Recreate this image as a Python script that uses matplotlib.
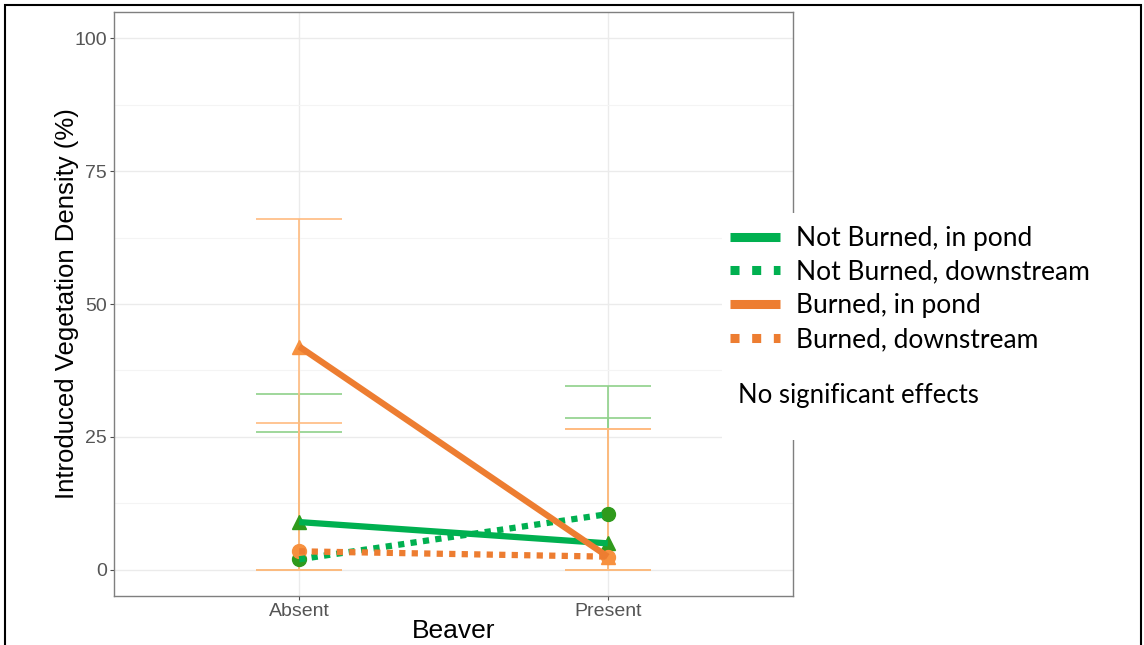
import matplotlib
matplotlib.use("Agg")
from matplotlib import pyplot as plt
from matplotlib.patches import Rectangle
from matplotlib.lines import Line2D

beaver = ["Absent", "Present"]
xpos = [1, 2]

groups = ["Not Burned, in pond", "Not Burned, downstream", "Burned, in pond", "Burned, downstream"]
means = {
    "Not Burned, in pond": [9.0, 5.0],
    "Not Burned, downstream": [2.0, 10.5],
    "Burned, in pond": [42.0, 2.5],
    "Burned, downstream": [3.5, 2.5],
}
upper = {
    "Not Burned, in pond": [33.0, 28.5],
    "Not Burned, downstream": [26.0, 34.5],
    "Burned, in pond": [66.0, 26.5],
    "Burned, downstream": [27.6, 26.5],
}
lower = {
    "Not Burned, in pond": [0.0, 0.0],
    "Not Burned, downstream": [0.0, 0.0],
    "Burned, in pond": [0.0, 0.0],
    "Burned, downstream": [0.0, 0.0],
}
yticks = [0, 25, 50, 75, 100]

line_col = {"Not": "#00b050", "Burned": "#ed7d31"}
err_col = {"Not": "#8fd18a", "Burned": "#ffbb80"}
mk_col = {"Not": "#2f9a1c", "Burned": "#f7913f"}

fig = plt.figure(figsize=(11.44, 6.45), dpi=100)
ax = fig.add_axes([114/1144, 1-596/645, (793-114)/1144, (596-12)/645])

for g in groups:
    key = "Not" if g.startswith("Not") else "Burned"
    m = means[g]
    yerr = [[m[i]-lower[g][i] for i in range(2)], [upper[g][i]-m[i] for i in range(2)]]
    ax.errorbar(xpos, m, yerr=yerr, fmt="none", ecolor=err_col[key], elinewidth=1.2,
                capsize=31, capthick=1.2, zorder=2)

for g in groups:
    key = "Not" if g.startswith("Not") else "Burned"
    pond = "in pond" in g
    ax.plot(xpos, means[g], color=mk_col[key], marker="^" if pond else "o",
            markersize=10, linestyle="none", zorder=3)
handles = []
for g in groups:
    key = "Not" if g.startswith("Not") else "Burned"
    pond = "in pond" in g
    ls = "-" if pond else (0, (1, 1))
    ax.plot(xpos, means[g], color=line_col[key], linewidth=4.5, linestyle=ls,
            solid_capstyle="butt", dash_capstyle="butt", zorder=4)
    handles.append(Line2D([], [], color=line_col[key], linewidth=6.5,
                          linestyle="-" if pond else (0, (1, 1.4)),
                          solid_capstyle="butt", dash_capstyle="butt"))

ax.set_xlim(0.4, 2.6)
ax.set_ylim(-4.9, 104.9)
ax.set_xticks(xpos)
ax.set_xticklabels(beaver)
ax.set_yticks(yticks)
ax.set_yticks([12.5, 37.5, 62.5, 87.5], minor=True)
ax.grid(True, which="major", color="#ebebeb", linewidth=1.0)
ax.grid(True, which="minor", axis="y", color="#f4f4f4", linewidth=0.8)
ax.set_axisbelow(True)
for s in ax.spines.values():
    s.set_color("#7f7f7f")
    s.set_linewidth(1.0)
ax.tick_params(axis="both", colors="#4d4d4d", labelsize=14, length=3, width=0.8, labelcolor="#555555", pad=2)
ax.tick_params(axis="both", which="minor", length=0)
for lab in ax.get_xticklabels() + ax.get_yticklabels():
    lab.set_family("Liberation Sans")
ax.set_xlabel("Beaver", fontsize=19, family="Liberation Sans", labelpad=-1)
ax.set_ylabel("Introduced Vegetation Density (%)", fontsize=18.5, family="Liberation Sans", labelpad=-3)

# white box behind legend
fig.patches.append(Rectangle((722/1144, 1-440/645), 380/1144, 227/645, transform=fig.transFigure,
                             facecolor="white", edgecolor="none", zorder=5))
leg = fig.legend(handles, groups, loc="upper left", bbox_to_anchor=(730/1144, 1-226/645),
                 frameon=False, handlelength=1.9, handletextpad=0.6, labelspacing=0.33,
                 borderpad=0, borderaxespad=0, prop={"family": "Lato", "size": 19})
leg.set_zorder(6)
fig.text(738/1144, 1-395/645, "No significant effects", fontsize=18.5, family="Lato",
         va="center", ha="left", zorder=6)

# outer frame
fig.patches.append(Rectangle((5/1144, -0.01), 1136/1144, 1-5/645+0.01, transform=fig.transFigure,
                             facecolor="none", edgecolor="black", linewidth=1.5, zorder=10))

fig.savefig("out.png", dpi=100)
